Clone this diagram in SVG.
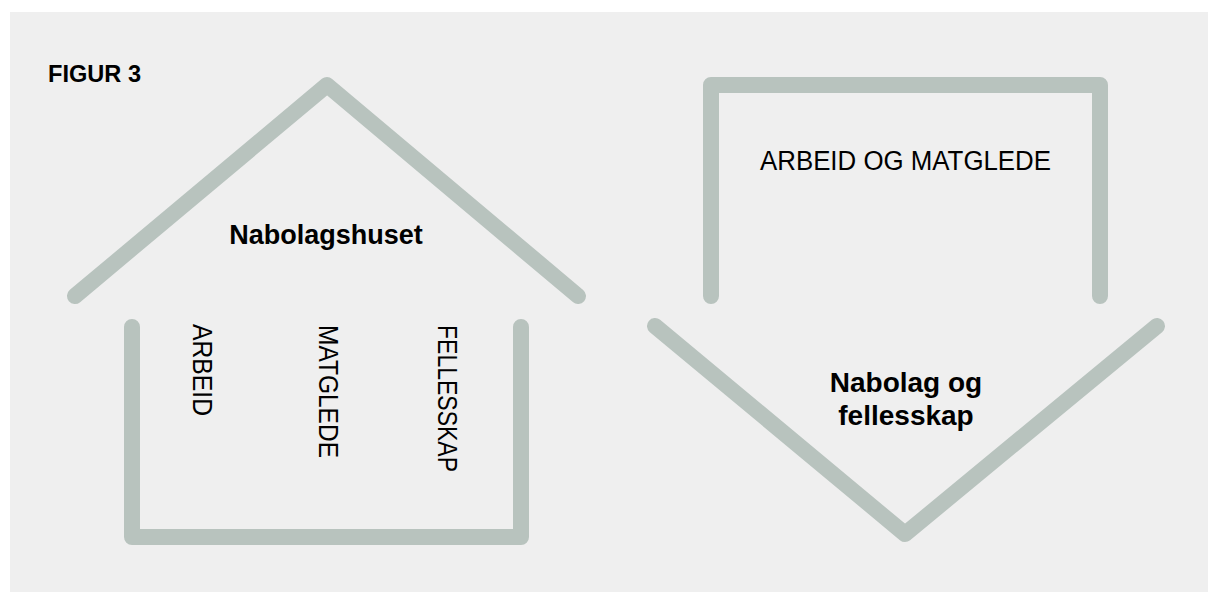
<svg xmlns="http://www.w3.org/2000/svg" width="1209" height="592" viewBox="0 0 1209 592">
<style>
.shape{fill:none;stroke:#b8c3be;stroke-width:16;stroke-linecap:round;stroke-linejoin:round}
.t{font-family:"Liberation Sans",Arial,sans-serif;fill:#000}
.reg{font-size:27px}
.bold{font-weight:bold}
</style>
<rect x="0" y="0" width="1209" height="592" fill="#ffffff"/>
<rect x="10" y="12" width="1198" height="580" fill="#efefef"/>
<text class="t bold" x="48" y="82" font-size="23" textLength="93" lengthAdjust="spacingAndGlyphs">FIGUR 3</text>
<g id="house">
<polyline class="shape" points="75,296 327,85 578,296"/>
<polyline class="shape" points="132,327 132,537 521,537 521,327"/>
<text class="t bold" x="326" y="244" font-size="27" text-anchor="middle">Nabolagshuset</text>
<text class="t reg" transform="translate(193,324) rotate(90)" textLength="92" lengthAdjust="spacingAndGlyphs">ARBEID</text>
<text class="t reg" transform="translate(319,325) rotate(90)" textLength="133" lengthAdjust="spacingAndGlyphs">MATGLEDE</text>
<text class="t reg" transform="translate(438,325) rotate(90)" textLength="147" lengthAdjust="spacingAndGlyphs">FELLESSKAP</text>
</g>
<g id="arrow">
<polyline class="shape" points="711,296 711,85 1100,85 1100,296"/>
<text class="t reg" x="760" y="170" textLength="291" lengthAdjust="spacingAndGlyphs">ARBEID OG MATGLEDE</text>
<polyline class="shape" points="655,326 905,534 1157,326"/>
<text class="t bold" x="906" y="392" font-size="28" text-anchor="middle">Nabolag og</text>
<text class="t bold" x="906" y="425" font-size="28" text-anchor="middle">fellesskap</text>
</g>
<g id="connectors"></g>
</svg>
